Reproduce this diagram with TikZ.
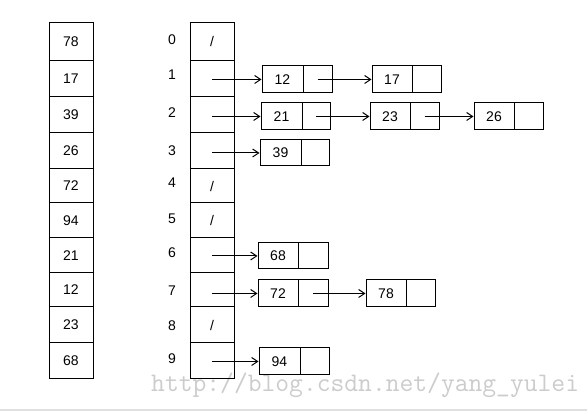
\documentclass[tikz,border=0pt]{standalone}
\usepackage{fontspec}
\setmainfont{Liberation Sans}
\newfontfamily\wmfont{Latin Modern Mono}
\usetikzlibrary{arrows.meta}
\newcommand\cellat[6]{\node[cellbox, minimum width={#3-#2}, minimum height={#5-#4}] (#1) at ({(#2+#3)/2},{(#4+#5)/2}) {#6};}
\newcommand\listbox[7]{\cellat{#1}{#2}{#3}{#5}{#6}{#7}\cellat{#1p}{#3}{#4}{#5}{#6}{}}
\def\nil{/}
\begin{document}
\begin{tikzpicture}[x=1pt,y=-1pt,
  cellbox/.style={draw, line width=1pt, inner sep=0pt, font=\fontsize{14}{16}\selectfont},
  lbl/.style={inner sep=0pt, font=\fontsize{14}{16}\selectfont},
  ptr/.style={line width=1pt, -{Straight Barb[length=6pt,width=8pt]}},
  wm/.style={inner sep=0pt, anchor=base west, text=black!20, font=\wmfont\fontsize{26.8}{28}\selectfont}
]
\useasboundingbox (0,0) rectangle (587,411);
\fill[white] (0,0) rectangle (587,411);
\draw[black!12, line width=2pt] (0,410) -- (587,410);
\node[wm] (mark) at (151,392) {http://blog.csdn.net/yang\_yulei};

% input column
\foreach \i/\t/\b/\v in {0/23/61/78, 1/61/97/17, 2/97/133/39, 3/133/169/26, 4/169/203/72,
  5/203/238/94, 6/238/273/21, 7/273/307/12, 8/307/343/23, 9/343/379/68}
  {\cellat{a\i}{49}{93}{\t}{\b}{\v}}

% hash table column
\foreach \i/\t/\b/\s in {0/23/61/\nil, 1/61/97/{}, 2/97/133/{}, 3/133/169/{}, 4/169/203/\nil,
  5/203/238/\nil, 6/238/273/{}, 7/273/307/{}, 8/307/343/\nil, 9/343/379/{}}
  {\cellat{h\i}{190}{234}{\t}{\b}{\s}}

% indices
\foreach \i/\y in {0/40, 1/75, 2/113, 3/151, 4/183, 5/219, 6/253, 7/291, 8/326, 9/359}
  {\node[lbl] (k\i) at (172,\y) {\i};}

% chains
\listbox{n12}{262}{303}{332}{66}{93}{12}
\listbox{n17}{372}{412}{441}{66}{93}{17}
\listbox{n21}{261}{302}{330}{103}{130}{21}
\listbox{n23}{370}{410}{439}{103}{130}{23}
\listbox{n26}{474}{514}{543}{103}{130}{26}
\listbox{n39}{260}{301}{329}{140}{166}{39}
\listbox{n68}{258}{298}{328}{243}{269}{68}
\listbox{n72}{258}{298}{328}{280}{307}{72}
\listbox{n78}{366}{406}{435}{280}{307}{78}
\listbox{n94}{259}{300}{329}{348}{375}{94}

\draw[ptr] (n12.west -| h1.center) -- (n12.west);
\draw[ptr] (n21.west -| h2.center) -- (n21.west);
\draw[ptr] (n39.west -| h3.center) -- (n39.west);
\draw[ptr] (n68.west -| h6.center) -- (n68.west);
\draw[ptr] (n72.west -| h7.center) -- (n72.west);
\draw[ptr] (n94.west -| h9.center) -- (n94.west);

\draw[ptr] (n12p.center) -- (n17.west);
\draw[ptr] (n21p.center) -- (n23.west);
\draw[ptr] (n23p.center) -- (n26.west);
\draw[ptr] (n72p.center) -- (n78.west);
\end{tikzpicture}
\end{document}
